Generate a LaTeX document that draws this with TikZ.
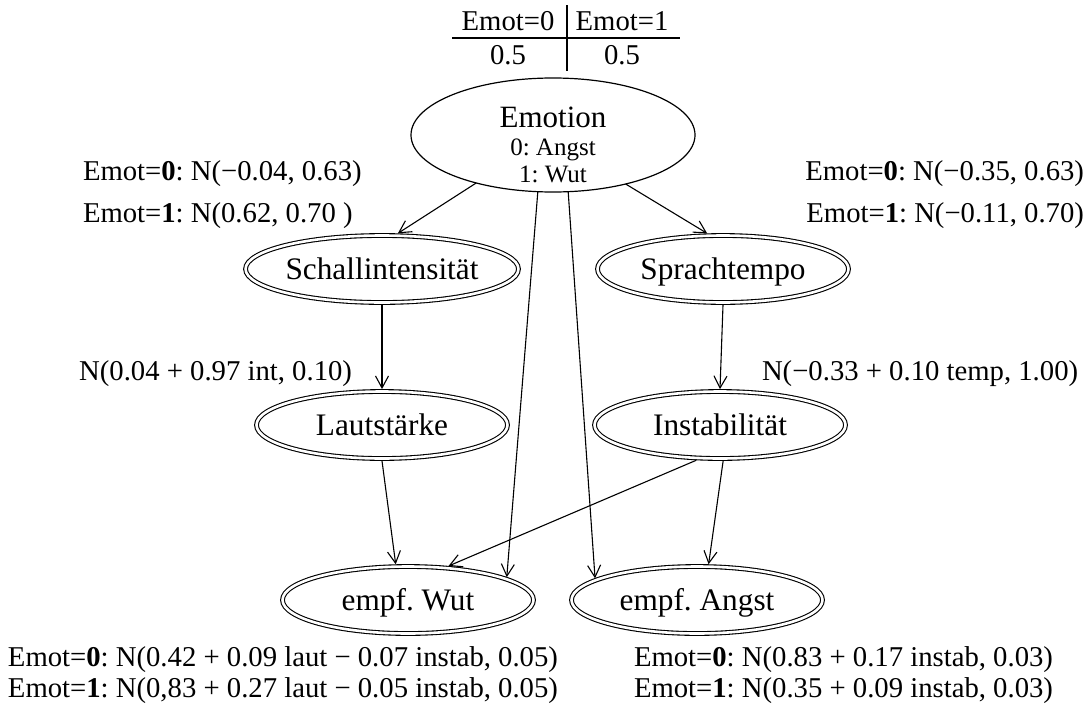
\documentclass[tikz,border=0pt]{standalone}
\usepackage{fontspec}
\setmainfont{Liberation Serif}
\usetikzlibrary{shapes.geometric,arrows.meta}
\frenchspacing
\begin{document}
\begin{tikzpicture}[x=1pt,y=-1pt,
  every node/.style={inner sep=0pt, outer sep=0pt},
  var/.style={ellipse, draw, line width=1.1pt, double=white, double distance=2.6pt,
    minimum width=251pt, minimum height=67pt, outer sep=2.4pt,
    font=\fontsize{31.3}{36}\selectfont, text height=21pt, text depth=0pt},
  emonode/.style={ellipse, draw, line width=1.2pt, minimum width=284pt, minimum height=114pt},
  big/.style={font=\fontsize{31}{36}\selectfont, anchor=base},
  small/.style={font=\fontsize{25}{30}\selectfont, anchor=base},
  lbl/.style={font=\fontsize{28.7}{34}\selectfont, anchor=base west},
  lblr/.style={font=\fontsize{28.7}{34}\selectfont, anchor=base east},
  lblc/.style={font=\fontsize{28.7}{34}\selectfont, anchor=base},
  conn/.style={draw, line width=1.1pt, -{Straight Barb[length=12pt,width=13pt]}},
  rulel/.style={draw, line width=1.1pt}
]
\useasboundingbox (0,0) rectangle (1091,704);

% prior table
\coordinate (vt) at (567,5);
\coordinate (vb) at (567,71);
\coordinate (hl) at (452,38);
\coordinate (hr) at (680,38);
\draw[rulel] (vt) -- (vb);
\draw[rulel] (hl) -- (hr);
\node[lblc] (t00) at (508,30) {Emot=0};
\node[lblc] (t01) at (622,30) {Emot=1};
\node[lblc] (t10) at (508,64) {0.5};
\node[lblc] (t11) at (622,64) {0.5};

% nodes
\node[emonode] (emo) at (553,135) {};
\node[big] (emot) at (553,127) {Emotion};
\node[small] (emo0) at (553,155) {0: Angst};
\node[small] (emo1) at (553,182) {1: Wut};

\node[var] (schall) at (382,269) {Schallintensität};
\node[var] (sprach) at (723,269) {Sprachtempo};
\node[var] (laut) at (382,425) {Lautstärke};
\node[var] (instab) at (720,425) {Instabilität};
\node[var] (wut) at (408,600) {empf. Wut};
\node[var] (angst) at (697,600) {empf. Angst};

% edges
\draw[conn] (emo.212) -- (schall.66);
\draw[conn] (emo.326) -- (sprach.114);
\draw[conn] (emo.255) -- (wut.13);
\draw[conn] (emo.285) -- (angst.168);
\draw[conn] (schall.south) -- (laut.north);
\draw[conn] (sprach.south) -- (instab.north);
\draw[conn] (laut.south) -- (wut.109);
\draw[conn] (instab.236) -- (wut.40);
\draw[conn] (instab.275) -- (angst.72);

% labels
\node[lbl] (ls0) at (83,180) {Emot=\textbf{0}: N(−0.04, 0.63)};
\node[lbl] (ls1) at (83,222) {Emot=\textbf{1}: N(0.62, 0.70 )};
\node[lblr] (rs0) at (1084,180) {Emot=\textbf{0}: N(−0.35, 0.63)};
\node[lblr] (rs1) at (1084,222) {Emot=\textbf{1}: N(−0.11, 0.70)};
\node[lblr] (lint) at (352,380) {N(0.04 + 0.97 int, 0.10)};
\node[lbl] (linst) at (762,380) {N(−0.33 + 0.10 temp, 1.00)};
\node[lbl] (bw0) at (8,666) {Emot=\textbf{0}: N(0.42 + 0.09 laut − 0.07 instab, 0.05)};
\node[lbl] (bw1) at (8,697) {Emot=\textbf{1}: N(0,83 + 0.27 laut − 0.05 instab, 0.05)};
\node[lbl] (ba0) at (634,666) {Emot=\textbf{0}: N(0.83 + 0.17 instab, 0.03)};
\node[lbl] (ba1) at (634,697) {Emot=\textbf{1}: N(0.35 + 0.09 instab, 0.03)};
\end{tikzpicture}
\end{document}
